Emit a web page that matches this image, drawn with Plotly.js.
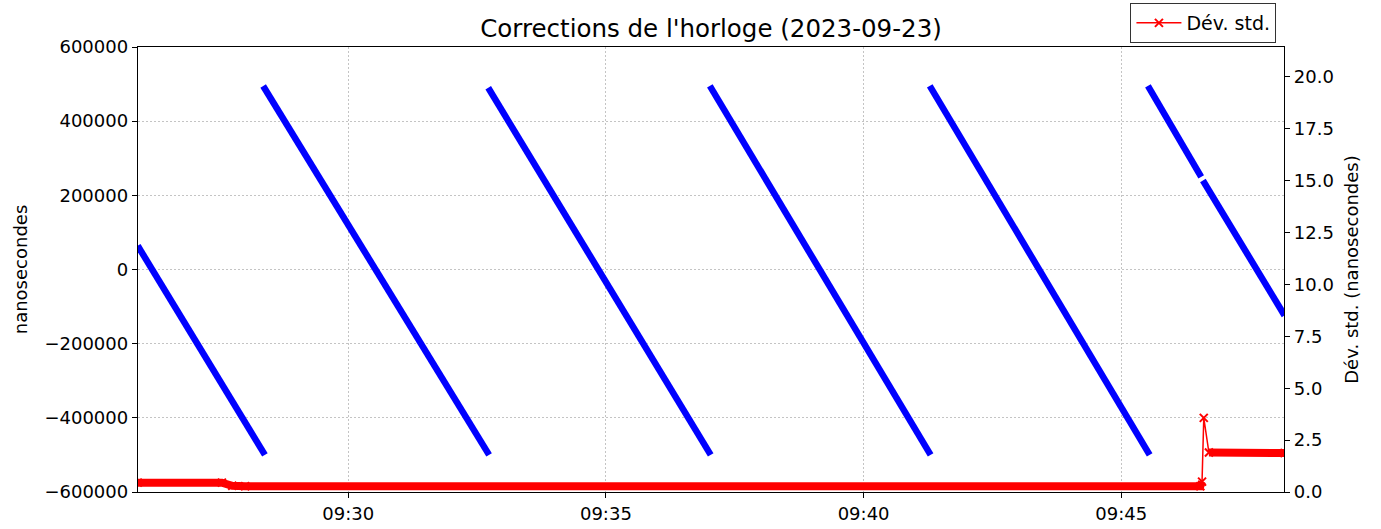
<!DOCTYPE html>
<html>
<head>
<meta charset="utf-8">
<script src="https://cdn.plot.ly/plotly-3.0.1.min.js"></script>
<style>
html,body{margin:0;padding:0;background:#fff;}
#chart{width:1381px;height:529px;}
</style>
</head>
<body>
<div id="chart"></div>
<script>
// Clock offset (ns): sawtooth segments, null marks a break between segments
const offsetTimes = [
  '2023-09-23 09:25:55', '2023-09-23 09:28:23', null,
  '2023-09-23 09:28:21', '2023-09-23 09:32:44', null,
  '2023-09-23 09:32:43', '2023-09-23 09:37:02', null,
  '2023-09-23 09:37:01', '2023-09-23 09:41:18', null,
  '2023-09-23 09:41:17', '2023-09-23 09:45:33', null,
  '2023-09-23 09:45:31', '2023-09-23 09:46:33', null,
  '2023-09-23 09:46:35', '2023-09-23 09:48:10'
];
const offsetValues = [
  64000, -500000, null,
  495000, -500000, null,
  490000, -500000, null,
  495000, -500000, null,
  495000, -500000, null,
  495000, 250000, null,
  240000, -124000
];
// Standard deviation (ns)
const devTimes = [
  '2023-09-23 09:25:55', '2023-09-23 09:27:33', '2023-09-23 09:27:45',
  '2023-09-23 09:28:00', '2023-09-23 09:46:32', '2023-09-23 09:46:34',
  '2023-09-23 09:46:36', '2023-09-23 09:46:42', '2023-09-23 09:48:10'
];
const devValues = [0.45, 0.45, 0.3, 0.28, 0.28, 0.5, 3.57, 1.9, 1.88];
const devSpike = [false, false, false, false, false, false, true, false, false];

const leftTicks = [600000, 400000, 200000, 0, -200000, -400000, -600000];
const leftTickLabels = ['600000', '400000', '200000', '0', '\u2212200000', '\u2212400000', '\u2212600000'];
const timeTicks = ['2023-09-23 09:30', '2023-09-23 09:35', '2023-09-23 09:40', '2023-09-23 09:45'];
const timeTickLabels = ['09:30', '09:35', '09:40', '09:45'];

const FONT = 'DejaVu Sans, sans-serif';
const FS = 18;

const traces = [
  {
    x: offsetTimes, y: offsetValues, type: 'scatter', mode: 'lines',
    line: {color: '#0000ff', width: 6.5}, showlegend: false, connectgaps: false
  },
  {
    x: devTimes, y: devValues.map((v, i) => devSpike[i] ? null : v),
    type: 'scatter', mode: 'lines', yaxis: 'y2',
    line: {color: '#ff0000', width: 8}, showlegend: false, connectgaps: false
  },
  {
    x: devTimes, y: devValues, type: 'scatter', mode: 'lines+markers', yaxis: 'y2',
    name: 'Dév. std.',
    line: {color: '#ff0000', width: 1.5},
    marker: {symbol: 'x-thin-open', size: 8, color: '#ff0000', line: {color: '#ff0000', width: 2}}
  }
];

const gridDash = '1.5px,2.5px';

const layout = {
  width: 1381, height: 529,
  margin: {l: 138, r: 97, t: 47, b: 37},
  paper_bgcolor: '#fff', plot_bgcolor: '#fff',
  font: {family: FONT, size: FS, color: '#000'},
  title: {
    text: "Corrections de l'horloge (2023-09-23)",
    font: {family: FONT, size: 24.5, color: '#000'},
    x: 0.5, xref: 'paper', xanchor: 'center',
    y: 0.947, yref: 'container', yanchor: 'middle'
  },
  xaxis: {
    type: 'date',
    range: ['2023-09-23 09:25:55.3', '2023-09-23 09:48:09.4'],
    tickmode: 'array', tickvals: timeTicks, ticktext: timeTickLabels,
    showgrid: true, gridcolor: '#c4c4c4', griddash: gridDash, gridwidth: 1,
    showline: true, linecolor: '#000', linewidth: 1.2, mirror: true,
    ticks: 'outside', ticklen: 5, tickcolor: '#000',
    tickfont: {family: FONT, size: FS, color: '#000'},
    zeroline: false
  },
  yaxis: {
    range: [-600000, 600000],
    tickmode: 'array', tickvals: leftTicks, ticktext: leftTickLabels,
    showgrid: true, gridcolor: '#c4c4c4', griddash: gridDash, gridwidth: 1,
    showline: true, linecolor: '#000', linewidth: 1.2,
    ticks: 'outside', ticklen: 5, tickcolor: '#000',
    tickfont: {family: FONT, size: FS, color: '#000'},
    zeroline: false,
    title: {text: 'nanosecondes', font: {family: FONT, size: FS, color: '#000'}, standoff: 12}
  },
  yaxis2: {
    overlaying: 'y', side: 'right',
    range: [0, 21.44],
    tick0: 0, dtick: 2.5, tickformat: '.1f',
    showgrid: false, zeroline: false,
    showline: true, linecolor: '#000', linewidth: 1.2,
    ticks: 'outside', ticklen: 5, tickcolor: '#000',
    tickfont: {family: FONT, size: FS, color: '#000'},
    title: {text: 'Dév. std. (nanosecondes)', font: {family: FONT, size: FS, color: '#000'}, standoff: 12}
  },
  legend: {
    x: 0.9934, xanchor: 'right', xref: 'paper',
    y: 0.9943, yanchor: 'top', yref: 'container',
    itemwidth: 45,
    bgcolor: '#fff', bordercolor: '#333', borderwidth: 1,
    font: {family: FONT, size: 19, color: '#000'}
  },
  showlegend: true
};

Plotly.newPlot('chart', traces, layout, {displayModeBar: false, staticPlot: true});
</script>
</body>
</html>
